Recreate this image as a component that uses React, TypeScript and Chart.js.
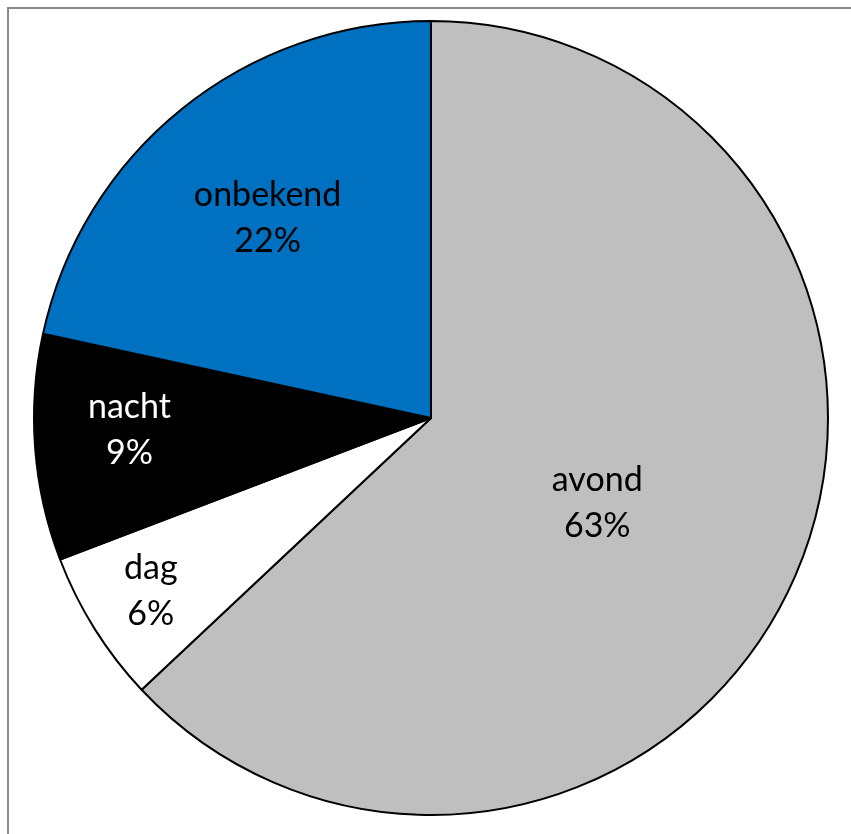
import React, { useEffect, useRef } from "react";
import { Chart, registerables } from "chart.js";

Chart.register(...registerables);

const categories = ["avond", "dag", "nacht", "onbekend"];
const values = [63.0, 6.2, 9.2, 21.6];
const percentLabels = ["63%", "6%", "9%", "22%"];
const sliceColors = ["#BFBFBF", "#FFFFFF", "#000000", "#0070C0"];
const labelColors = ["#000000", "#000000", "#FFFFFF", "#000000"];
const labelRadiusFractions = [0.47, 0.83, 0.76, 0.65];
const labelAngleShiftDeg = [3.6, 0.3, 2.1, -0.4];

const labelPlugin = {
  id: "sliceLabels",
  afterDatasetsDraw(chart: any) {
    const ctx = chart.ctx;
    const meta = chart.getDatasetMeta(0);
    ctx.save();
    ctx.font = "34px Lato, 'Open Sans', sans-serif";
    ctx.textAlign = "center";
    ctx.textBaseline = "middle";
    meta.data.forEach((arc: any, i: number) => {
      const { x, y, startAngle, endAngle, outerRadius } = arc.getProps(
        ["x", "y", "startAngle", "endAngle", "outerRadius"],
        true
      );
      const mid = (startAngle + endAngle) / 2 + (labelAngleShiftDeg[i] * Math.PI) / 180;
      const r = outerRadius * labelRadiusFractions[i];
      const cx = x + Math.cos(mid) * r;
      const cy = y + Math.sin(mid) * r;
      ctx.fillStyle = labelColors[i];
      ctx.fillText(categories[i], cx, cy - 23);
      ctx.fillText(percentLabels[i], cx, cy + 23);
    });
    ctx.restore();
  },
};

export default function App() {
  const ref = useRef<HTMLCanvasElement>(null);
  useEffect(() => {
    if (!ref.current) return;
    const chart = new Chart(ref.current, {
      type: "pie",
      data: {
        labels: categories,
        datasets: [
          {
            data: values,
            backgroundColor: sliceColors,
            borderColor: "#000000",
            borderWidth: 2,
          },
        ],
      },
      options: {
        responsive: false,
        animation: false,
        layout: { padding: { left: 33, top: 20, right: 22, bottom: 18 } },
        plugins: {
          legend: { display: false },
          tooltip: { enabled: false },
        },
      },
      plugins: [labelPlugin],
    });
    return () => chart.destroy();
  }, []);

  return (
    <div
      style={{
        position: "fixed",
        left: 0,
        top: 0,
        width: 851,
        height: 834,
        overflow: "hidden",
        background: "#ffffff",
      }}
    >
      <div
        style={{
          position: "absolute",
          left: 7,
          top: 7,
          width: 900,
          height: 900,
          border: "2px solid #8a8a8a",
          boxSizing: "border-box",
        }}
      />
      <canvas
        ref={ref}
        width={851}
        height={834}
        style={{ position: "absolute", left: 0, top: 0 }}
      />
    </div>
  );
}
